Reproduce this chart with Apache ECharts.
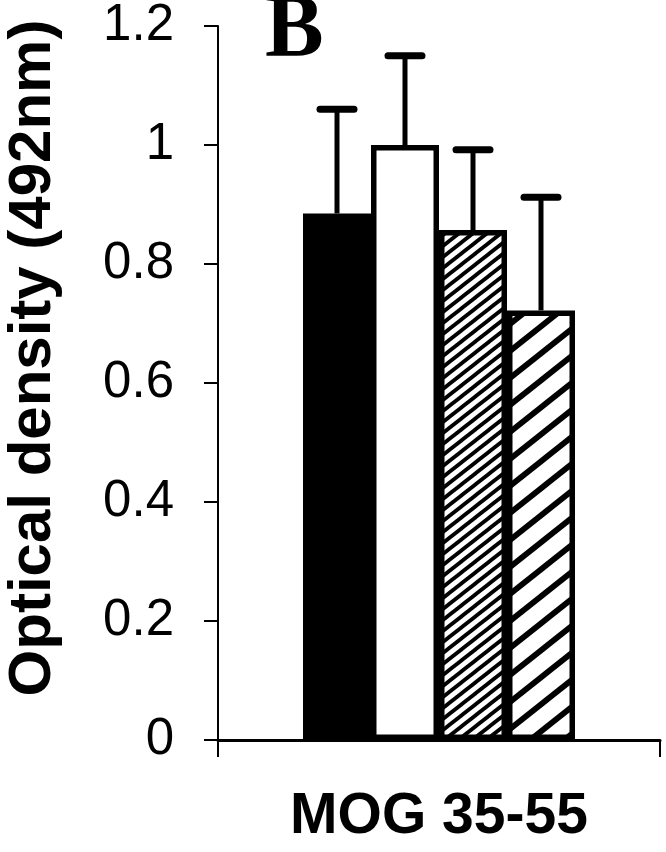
<!DOCTYPE html>
<html>
<head>
<meta charset="utf-8">
<script src="https://cdn.jsdelivr.net/npm/echarts@6/dist/echarts.min.js"></script>
<style>
  html, body { margin: 0; padding: 0; background: #fff; }
  #chart { width: 666px; height: 852px; }
</style>
</head>
<body>
<div id="chart"></div>
<script>
// ---- data ----
const categories = ['MOG 35-55'];
const groupNames = ['Group 1', 'Group 2', 'Group 3', 'Group 4'];
const means = [0.885, 1.0, 0.857, 0.722];
const upperErr = [1.06, 1.15, 0.992, 0.912];
const yMin = 0, yMax = 1.2, yStep = 0.2;
const panelLabel = 'B';
const yTitle = 'Optical density (492nm)';

// ---- styling helpers ----
const BAR_W = 68;
function hatch(w, h, thick) {
  const c = document.createElement('canvas');
  c.width = w; c.height = h;
  const ctx = c.getContext('2d');
  ctx.fillStyle = '#fff';
  ctx.fillRect(0, 0, w, h);
  ctx.strokeStyle = '#000';
  ctx.lineWidth = thick;
  for (let k = -1; k <= 1; k++) {
    ctx.beginPath();
    ctx.moveTo(-2, h + k * h + 2 * h / w);
    ctx.lineTo(w + 2, k * h - 2 * h / w);
    ctx.stroke();
  }
  return c;
}
const fills = [
  '#000',
  '#fff',
  { image: hatch(14, 11, 3.8), repeat: 'repeat' },
  { image: hatch(34, 27, 5.8), repeat: 'repeat' }
];

const chart = echarts.init(document.getElementById('chart'), null, { renderer: 'canvas' });

const barSeries = groupNames.map((name, i) => ({
  name: name,
  type: 'bar',
  data: [means[i]],
  barWidth: BAR_W,
  barGap: '0%',
  itemStyle: { color: fills[i], borderColor: '#000', borderWidth: 5.5 },
  z: 2
}));

const errSeries = {
  type: 'custom',
  z: 5,
  data: means.map((m, i) => [0, m, upperErr[i], i]),
  renderItem: function (params, api) {
    const top = api.coord([api.value(0), api.value(2)]);
    const base = api.coord([api.value(0), api.value(1)]);
    const x = top[0] + (api.value(3) - 1.5) * BAR_W;
    return {
      type: 'group',
      children: [
        { type: 'line', shape: { x1: x, y1: base[1], x2: x, y2: top[1] },
          style: { stroke: '#000', lineWidth: 5 } },
        { type: 'line', shape: { x1: x - 17, y1: top[1], x2: x + 17, y2: top[1] },
          style: { stroke: '#000', lineWidth: 7, lineCap: 'round' } }
      ]
    };
  }
};

chart.setOption({
  backgroundColor: '#fff',
  animation: false,
  grid: { left: 218, right: 6, top: 26, bottom: 112, containLabel: false, outerBoundsMode: 'none' },
  xAxis: {
    type: 'category',
    data: categories,
    axisLine: { lineStyle: { color: '#000', width: 3 } },
    axisTick: { show: true, length: 17, lineStyle: { color: '#000', width: 2 } },
    axisLabel: { color: '#000', fontFamily: 'Liberation Sans', fontWeight: 'bold', fontSize: 57, margin: 49 }
  },
  yAxis: {
    type: 'value',
    min: yMin, max: yMax, interval: yStep,
    splitLine: { show: false },
    axisLine: { show: true, lineStyle: { color: '#000', width: 2 } },
    axisTick: { show: true, length: 14, lineStyle: { color: '#000', width: 2 } },
    axisLabel: { color: '#000', fontFamily: 'Liberation Sans', fontSize: 51, margin: 44 },
    name: yTitle,
    nameLocation: 'middle',
    nameRotate: 90,
    nameGap: 155,
    nameMoveOverlap: false,
    nameTextStyle: { color: '#000', fontFamily: 'Liberation Sans', fontWeight: 'bold', fontSize: 60, padding: [0, 0, 0, 50] }
  },
  graphic: [{
    type: 'text', left: 265, top: -12,
    style: { text: panelLabel, font: 'bold 88px "Liberation Serif"', fill: '#000' }
  }],
  series: barSeries.concat([errSeries])
});
</script>
</body>
</html>
